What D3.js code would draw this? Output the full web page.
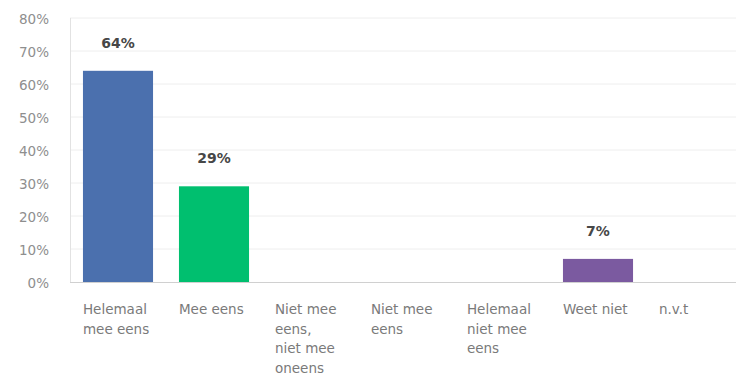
<!DOCTYPE html>
<html>
<head>
<meta charset="utf-8">
<script src="https://cdn.jsdelivr.net/npm/d3@7"></script>
<style>
  html, body { margin: 0; padding: 0; background: #fff; }
  svg { display: block; }
  text { font-family: "DejaVu Sans", "Noto Sans", sans-serif; }
</style>
</head>
<body>
<svg id="chart" width="736" height="374"></svg>
<script>
// Answer categories (line breaks as shown under each bar)
const categories = [
  ["Helemaal", "mee eens"],
  ["Mee eens"],
  ["Niet mee", "eens,", "niet mee", "oneens"],
  ["Niet mee", "eens"],
  ["Helemaal", "niet mee", "eens"],
  ["Weet niet"],
  ["n.v.t"]
];
// Share of respondents per answer (%), null = no bar
const values = [64, 29, null, null, null, 7, null];
const barColors = ["#4b70ae", "#00bf6f", "#4b70ae", "#4b70ae", "#4b70ae", "#7b5aa0", "#4b70ae"];
const yTicks = [0, 10, 20, 30, 40, 50, 60, 70, 80];

const svg = d3.select("#chart");
const chartW = 736;
const plotLeft = 70, plotBottom = 282, plotTop = 18;
const step = 96;

const x = d3.scaleBand()
  .domain(d3.range(categories.length))
  .range([plotLeft, plotLeft + step * categories.length])
  .paddingInner(0.27)
  .paddingOuter(0.135);

const y = d3.scaleLinear().domain([0, 80]).range([plotBottom, plotTop]);

// Horizontal gridlines
svg.append("g")
  .selectAll("line")
  .data(yTicks.filter(d => d > 0))
  .join("line")
  .attr("x1", plotLeft).attr("x2", chartW)
  .attr("y1", d => y(d)).attr("y2", d => y(d))
  .attr("stroke", "#eeeeee").attr("stroke-width", 1);

// Vertical axis line
svg.append("line")
  .attr("x1", plotLeft + 0.5).attr("x2", plotLeft + 0.5)
  .attr("y1", plotTop).attr("y2", plotBottom)
  .attr("stroke", "#e2e2e2");

// Y axis tick labels
const yAxis = d3.axisLeft(y)
  .tickValues(yTicks)
  .tickFormat(d => d + "%")
  .tickSize(0)
  .tickPadding(0);
const gy = svg.append("g")
  .attr("transform", `translate(49,1)`)
  .call(yAxis);
gy.select(".domain").remove();
gy.selectAll("text")
  .attr("fill", "#8e8e8e")
  .style("font-size", "13.5px")
  .style("font-family", "\"DejaVu Sans\", sans-serif");

// Bars
const data = values.map((v, i) => ({ v, i })).filter(d => d.v !== null);
svg.append("g")
  .selectAll("rect")
  .data(data)
  .join("rect")
  .attr("x", d => x(d.i))
  .attr("width", x.bandwidth())
  .attr("y", d => y(d.v))
  .attr("height", d => y(0) - y(d.v))
  .attr("fill", d => barColors[d.i]);

// Value labels above bars
svg.append("g")
  .selectAll("text")
  .data(data)
  .join("text")
  .attr("x", d => x(d.i) + x.bandwidth() / 2)
  .attr("y", d => y(d.v) - 23)
  .attr("text-anchor", "middle")
  .attr("fill", "#474747")
  .style("font-size", "14px")
  .style("font-weight", "bold")
  .text(d => d.v + "%");

// Baseline
svg.append("line")
  .attr("x1", plotLeft).attr("x2", chartW)
  .attr("y1", plotBottom + 0.5).attr("y2", plotBottom + 0.5)
  .attr("stroke", "#d0d0d0");

// Category labels
const cat = svg.append("g")
  .selectAll("text")
  .data(categories)
  .join("text")
  .attr("x", (d, i) => x(i))
  .attr("y", 314)
  .attr("fill", "#7a7a7a")
  .style("font-size", "13.5px");
cat.selectAll("tspan")
  .data(d => d)
  .join("tspan")
  .attr("x", function () { return d3.select(this.parentNode).attr("x"); })
  .attr("dy", (d, j) => j === 0 ? 0 : 19.5)
  .text(d => d);
</script>
</body>
</html>
